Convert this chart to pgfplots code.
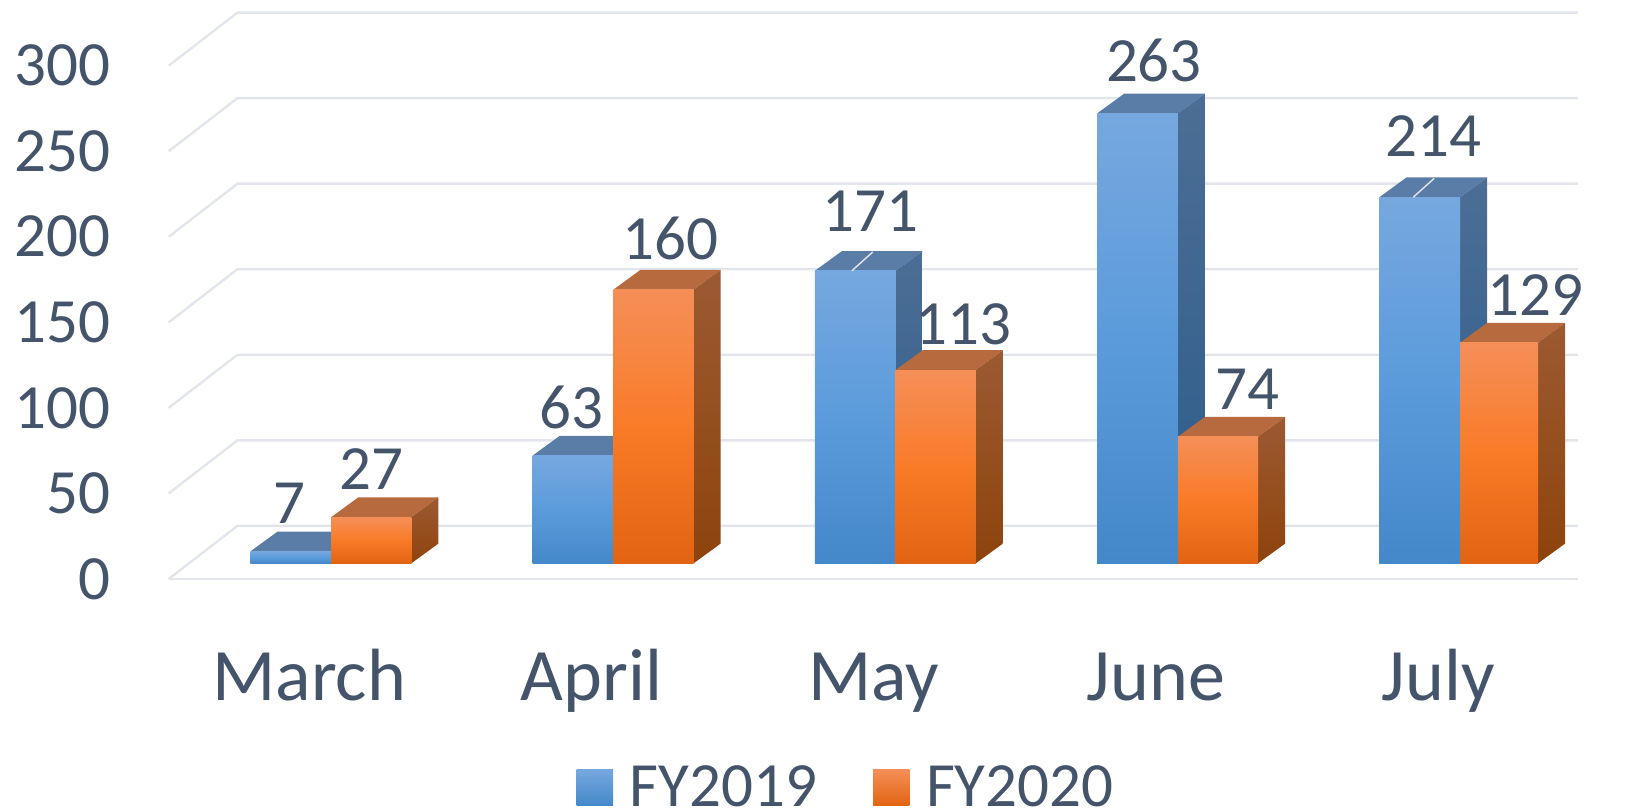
\documentclass[border=0pt]{standalone}
\usepackage{pgfplots}
\pgfplotsset{compat=1.18}
\usepackage{fontspec}
\setmainfont{Carlito}
\definecolor{txt}{HTML}{44546A}
\definecolor{gridc}{HTML}{E2E5EC}
\definecolor{bT}{HTML}{76A8DF}\definecolor{bM}{HTML}{5B9BDB}\definecolor{bB}{HTML}{4488C9}
\definecolor{bTop}{HTML}{5A7DA8}\definecolor{bS}{HTML}{4C6E95}\definecolor{bSb}{HTML}{2C5C8B}
\definecolor{oT}{HTML}{F58F58}\definecolor{oM}{HTML}{F97B28}\definecolor{oB}{HTML}{E26412}
\definecolor{oTop}{HTML}{B86A3F}\definecolor{oS}{HTML}{9C5A32}\definecolor{oSb}{HTML}{8E430C}
% #1 left x, #2 right x, #3 value, #4 colour prefix
\newcommand{\threedbar}[4]{%
  \pgfmathsetmacro{\xa}{#1}\pgfmathsetmacro{\xb}{#2}%
  \pgfmathsetmacro{\xc}{#1+0.096}\pgfmathsetmacro{\xd}{#2+0.096}%
  \pgfmathsetmacro{\yt}{#3+11.56}%
  \addplot[forget plot,draw=none,fill=#4Top] coordinates {(\xa,#3)(\xc,\yt)(\xd,\yt)(\xb,#3)} --cycle;
  \addplot[forget plot,draw=none,top color=#4S,bottom color=#4Sb] coordinates {(\xb,#3)(\xd,\yt)(\xd,11.56)(\xb,0)} --cycle;
  \addplot[forget plot,draw=none,top color=#4T,bottom color=#4B,middle color=#4M] coordinates {(\xa,0)(\xa,#3)(\xb,#3)(\xb,0)} --cycle;
}
\newcommand{\grd}[2]{\addplot[forget plot,gridc,line width=1.2pt] coordinates {(-0.57565,#1)(-0.332,#2)(4.417,#2)};}
\newcommand{\lab}[3]{\node[txt,font=\fontsize{31.5}{36}\selectfont,inner sep=0pt,anchor=center] at (axis cs:#1,#2) {#3};}
\begin{document}
\begin{tikzpicture}
\begin{axis}[
  scale only axis, width=704.6pt, height=283.2pt,
  xmin=-0.57565, xmax=4.41697, ymin=-9.13, ymax=321.91,
  clip=false,
  axis line style={draw=none}, tick style={draw=none},
  xtick={0,1,2,3,4}, xticklabels={March,April,May,June,July},
  ytick={0,50,100,150,200,250,300},
  /pgf/number format/assume math mode=true,
  yticklabel style={anchor=east,xshift=-25.5pt,yshift=-7.8pt,text=txt,font=\fontsize{31.5}{36}\selectfont},
  xticklabel style={anchor=base,xshift=-11pt,yshift=-61pt,text=txt,font=\fontsize{37}{42}\selectfont},
  legend style={at={(0.48,-0.368)},anchor=center,draw=none,fill=none,inner sep=0pt,
    nodes={inner sep=0pt},
    legend columns=2,font=\fontsize{31.5}{36}\selectfont,text=txt,
    /tikz/every odd column/.style={column sep=8.3pt},
    /tikz/every even column/.style={column sep=28pt}},
]
\coordinate (pa) at (axis cs:-1.17343,-144.25);
\coordinate (pb) at (axis cs:4.61255,329.28);
% grid
\grd{-9.13}{21.91}
\grd{40.87}{71.91}
\grd{90.87}{121.91}
\grd{140.87}{171.91}
\grd{190.87}{221.91}
\grd{240.87}{271.91}
\grd{290.87}{321.91}
\addplot[forget plot,gridc,line width=1.2pt] coordinates {(-0.57565,-9.13)(4.417,-9.13)};
% bars
\threedbar{-0.286}{0}{7}{b}
\threedbar{0}{0.284}{27}{o}
\threedbar{0.714}{1}{63}{b}
\threedbar{1}{1.284}{160}{o}
\threedbar{1.714}{2}{171}{b}
\addplot[forget plot,gridc,line width=0.7pt] coordinates {(1.845,171)(1.919,182)};
\threedbar{2}{2.284}{113}{o}
\threedbar{2.714}{3}{263}{b}
\threedbar{3}{3.284}{74}{o}
\threedbar{3.714}{4}{214}{b}
\addplot[forget plot,gridc,line width=0.7pt] coordinates {(3.834,214)(3.908,225)};
\threedbar{4}{4.276}{129}{o}
% data labels
\lab{-0.148}{35}{7}
\lab{0.143}{55}{27}
\lab{0.85}{91}{63}
\lab{1.203}{190}{160}
\lab{1.911}{206}{171}
\lab{2.24}{140}{113}
\lab{2.915}{294}{263}
\lab{3.247}{102}{74}
\lab{3.904}{250}{214}
\lab{4.266}{157}{129}
% legend
\addlegendimage{legend image code/.code={\shade[top color=bT,middle color=bM,bottom color=bB,draw=none] (0pt,-9.1pt) rectangle (18.2pt,9.1pt);}}
\addlegendentry{FY2019}
\addlegendimage{legend image code/.code={\shade[top color=oT,middle color=oM,bottom color=oB,draw=none] (0pt,-9.1pt) rectangle (18.2pt,9.1pt);}}
\addlegendentry{FY2020}
\end{axis}
\pgfresetboundingbox
\path[use as bounding box] (pa) rectangle (pb);
\end{tikzpicture}
\end{document}
